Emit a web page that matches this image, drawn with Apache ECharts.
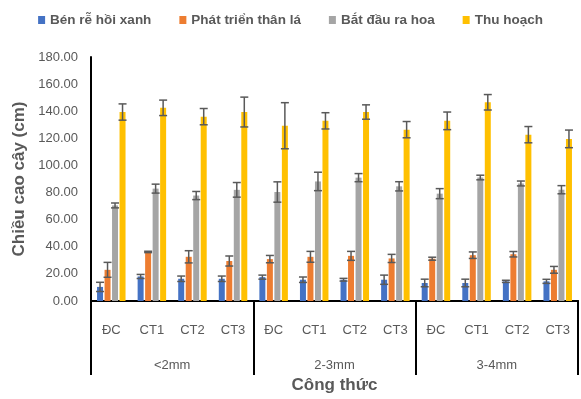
<!DOCTYPE html>
<html>
<head>
<meta charset="utf-8">
<script src="https://cdn.jsdelivr.net/npm/echarts@6/dist/echarts.min.js"></script>
<style>html,body{margin:0;padding:0;background:#fff}#c{width:581px;height:399px}</style>
</head>
<body>
<div id="c"></div>
<script>
var categories = ['ĐC','CT1','CT2','CT3','ĐC','CT1','CT2','CT3','ĐC','CT1','CT2','CT3'];
var groups = ['<2mm','2-3mm','3-4mm'];
var seriesNames = ['Bén rễ hồi xanh','Phát triển thân lá','Bắt đầu ra hoa','Thu hoạch'];
var benRe = [10.4,18.1,16.4,16.4, 17.6,15.7,15.7,15.7, 13.3,13.3,14.5,14.5];
var benReErr = [3.4,1.5,2,2, 1.5,2,1,3.4, 2.8,2.8,0.8,1.5];
var thanLa = [23,36.2,32.6,29.5, 30.9,32.6,33.3,31.4, 31.2,33.8,34.5,23];
var thanLaErr = [5.5,0.5,4.5,3.7, 2.7,4,3.3,3, 1.1,2.4,2,2.5];
var raHoa = [70.5,82.9,77.8,82, 80.4,88.2,91,84.6, 79.2,91.1,86.7,82.1];
var raHoaErr = [1.8,3.3,3,5.4, 7.5,6.8,3,3.4, 3.7,1.7,1.8,3];
var thuHoach = [139.4,142.5,136,139.4, 129.3,132.9,139.4,126.4, 132.9,146.6,122.7,119.6];
var thuHoachErr = [6,5.7,6,11, 17,6,5.3,6, 6.5,5.7,6,6.5];
var yTicks = {min:0, max:180, interval:20};

var colors = ['#4472C4','#ED7D31','#A5A5A5','#FFC000'];
var values = [benRe, thanLa, raHoa, thuHoach];
var errs = [benReErr, thanLaErr, raHoaErr, thuHoachErr];
var BAR_W = 6, PITCH = 7.5;

var chart = echarts.init(document.getElementById('c'));
var series = [];
values.forEach(function(v, k){
  series.push({
    name: seriesNames[k], type:'bar', data:v, barWidth:BAR_W, barGap:'25%',
    itemStyle:{color:colors[k]}, xAxisIndex:0, yAxisIndex:0
  });
});
values.forEach(function(v, k){
  series.push({
    type:'custom', xAxisIndex:0, yAxisIndex:0, z:5, silent:true,
    data: v.map(function(val,i){return [i, val, errs[k][i]];}),
    renderItem: function(params, api){
      var idx = api.value(0), val = api.value(1), e = api.value(2);
      var c = api.coord([idx, val]);
      var x = c[0] + (k - 1.5) * PITCH;
      var hi = api.coord([idx, val + e])[1];
      var lo = api.coord([idx, val - e])[1];
      var st = {stroke:'#595959', lineWidth:1.5};
      return {type:'group', children:[
        {type:'line', shape:{x1:x,y1:hi,x2:x,y2:lo}, style:st},
        {type:'line', shape:{x1:x-4,y1:hi,x2:x+4,y2:hi}, style:st},
        {type:'line', shape:{x1:x-4,y1:lo,x2:x+4,y2:lo}, style:st}
      ]};
    }
  });
});

chart.setOption({
  animation:false,
  textStyle:{fontFamily:'Liberation Sans, Arial, sans-serif'},
  legend:{
    data:seriesNames, top:8, left:'center', icon:'rect', itemWidth:7, itemHeight:8, itemGap:28,
    textStyle:{color:'#595959', fontSize:13.5, fontWeight:'bold', fontFamily:'Liberation Sans'}
  },
  grid:{left:91, right:3, top:57, bottom:93, containLabel:false},
  xAxis:[
    {type:'category', data:categories, position:'bottom', offset:0,
     axisLine:{show:true, lineStyle:{color:'#000', width:2}},
     axisTick:{show:false},
     axisLabel:{color:'#595959', fontSize:13, margin:23, interval:0}},
    {type:'category', data:groups, position:'bottom', offset:0,
     axisLine:{show:true, lineStyle:{color:'#000', width:2}},
     axisTick:{show:true, length:74, lineStyle:{color:'#000', width:2}},
     axisLabel:{color:'#595959', fontSize:13, margin:58, interval:0},
     name:'Công thức', nameLocation:'middle', nameGap:76,
     nameTextStyle:{color:'#595959', fontSize:17, fontWeight:'bold'}}
  ],
  yAxis:{
    type:'value', min:yTicks.min, max:yTicks.max, interval:yTicks.interval,
    axisLine:{show:true, lineStyle:{color:'#000', width:2}},
    axisTick:{show:false}, splitLine:{show:false},
    axisLabel:{color:'#595959', fontSize:13, margin:13, formatter:function(v){return v.toFixed(2);}},
    name:'Chiều cao cây (cm)', nameLocation:'middle', nameGap:59,
    nameTextStyle:{color:'#595959', fontSize:17, fontWeight:'bold'}
  },
  series:series
});
</script>
</body>
</html>
